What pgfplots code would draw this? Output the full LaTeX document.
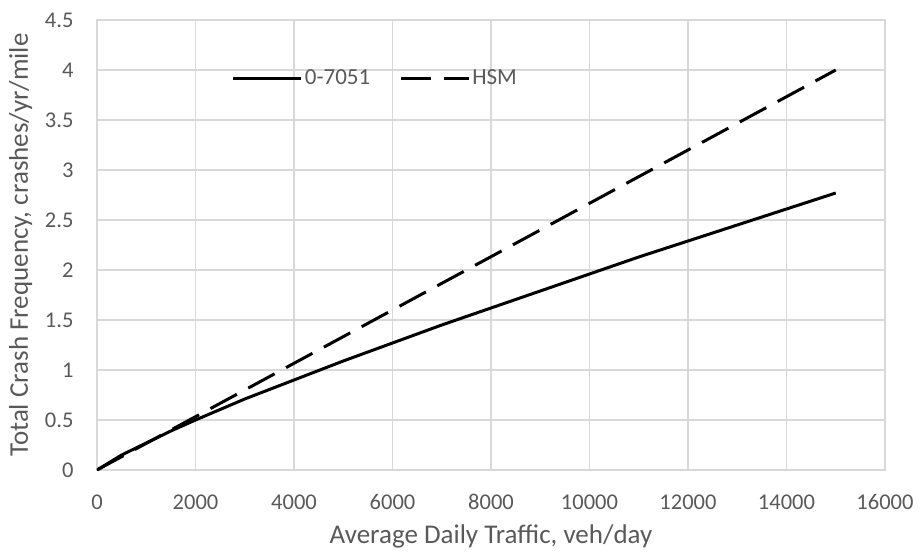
\documentclass[border=0pt]{standalone}
\usepackage{pgfplots}
\pgfplotsset{compat=1.18}
\usepackage{fontspec}
\setmainfont{Carlito}
\definecolor{txt}{HTML}{595959}
\definecolor{grd}{HTML}{D9D9D9}
\begin{document}
\begin{tikzpicture}
\useasboundingbox (-97bp,-84bp) rectangle (823bp,470bp);
\begin{axis}[
  scale only axis, width=788bp, height=450bp,
  at={(0,0)}, anchor=south west,
  xmin=0, xmax=16000, ymin=0, ymax=4.5,
  xtick={0,2000,...,16000}, ytick={0,0.5,...,4.5},
  scaled x ticks=false, scaled y ticks=false,
  axis line style={grd, line width=1.2bp},
  grid=major, major grid style={grd, line width=1.2bp},
  tick style={draw=none},
  /pgf/number format/assume math mode=true,
  /pgf/number format/.cd, fixed, 1000 sep={}, /pgfplots/.cd,
  tick label style={font=\fontsize{22.5bp}{26bp}\selectfont, text=txt},
  xticklabel shift=21bp,
  yticklabel shift=20bp,
  xlabel={Average Daily Traffic, veh/day},
  ylabel={Total Crash Frequency, crashes/yr/mile},
  label style={text=txt, font=\fontsize{27bp}{31bp}\selectfont},
  xlabel style={yshift=-8bp},
  ylabel style={yshift=6bp},
  legend columns=2,
  legend cell align=left,
  legend style={draw=none, fill=none, at={(0.171,0.871)}, anchor=west, inner sep=0pt,
    font=\fontsize{23bp}{27bp}\selectfont, text=txt,
    nodes={inner xsep=2bp},
    /tikz/every even column/.append style={column sep=27bp}},
  legend image code/.code={\draw[#1] (0bp,0bp) -- (68bp,0bp);},
]
\addplot[black, line width=3bp] coordinates {
(0,0) (500,0.15) (1000,0.27) (1500,0.39) (2000,0.50) (3000,0.71) (4000,0.90)
(5000,1.09) (6000,1.27) (7000,1.45) (8000,1.62) (9000,1.79) (10000,1.96)
(11000,2.13) (12000,2.29) (13000,2.45) (14000,2.61) (15000,2.77)};
\addlegendentry{0-7051}
\addplot[black, line width=3bp, dash pattern=on 30bp off 13bp] coordinates {
(0,0) (2000,0.533) (4000,1.067) (6000,1.60) (8000,2.133) (10000,2.667) (12000,3.20) (14000,3.733) (15000,4.0)};
\addlegendentry{HSM}
\end{axis}
\end{tikzpicture}
\end{document}
